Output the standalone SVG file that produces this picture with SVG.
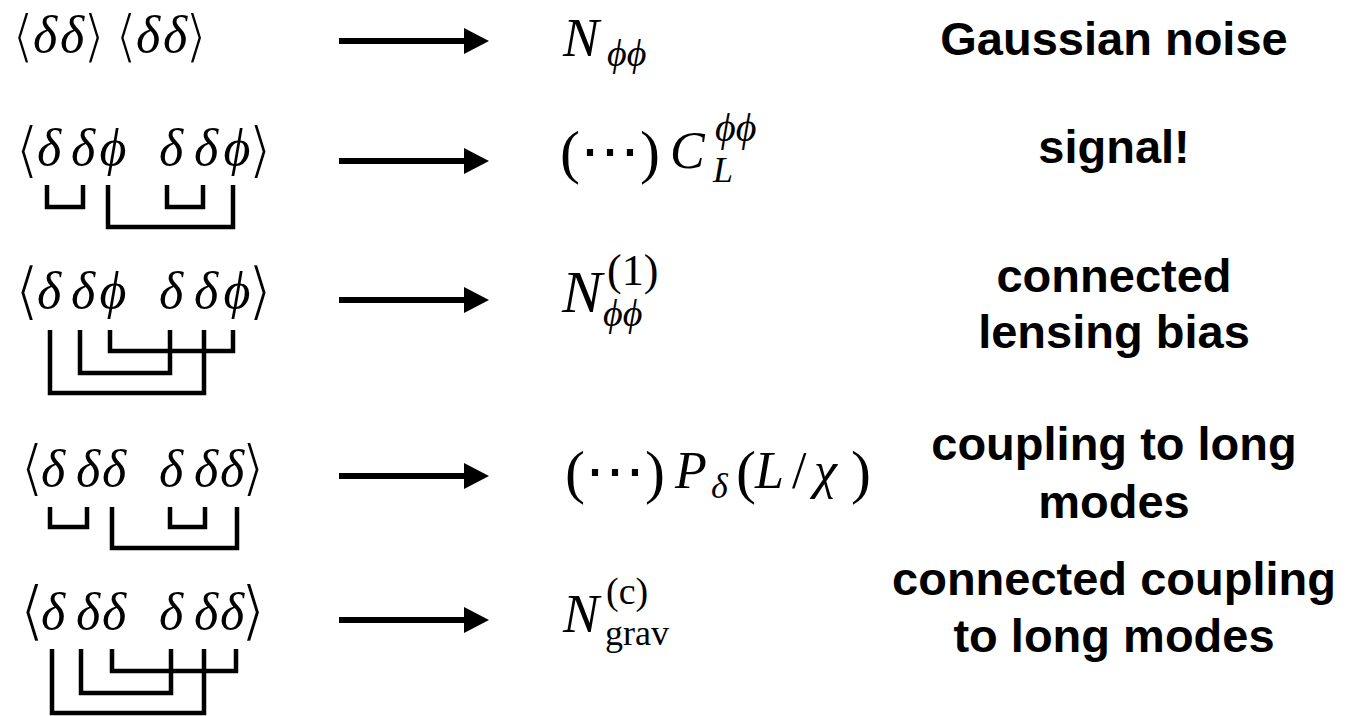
<svg xmlns="http://www.w3.org/2000/svg" width="1346" height="716" viewBox="0 0 1346 716">
<style>
.m{font-family:"Liberation Serif","DejaVu Serif",serif;font-style:italic;fill:#000}
.r{font-family:"Liberation Serif","DejaVu Serif",serif;font-style:normal;fill:#000}
.ab{font-family:"DejaVu Serif",serif;font-style:normal;font-weight:normal;fill:#000;stroke:#fff;stroke-width:2.2px;paint-order:fill;text-anchor:middle}
.lbl{font-family:"Liberation Sans",Arial,sans-serif;font-weight:bold;font-size:47px;fill:#000;text-anchor:middle}
.c{text-anchor:middle}
.br{fill:none;stroke:#000;stroke-width:4.5;stroke-linejoin:miter}
.arr{stroke:#000;stroke-width:6;fill:none}
</style>
<defs>
<marker id="ah" markerUnits="userSpaceOnUse" markerWidth="26" markerHeight="26" refX="0" refY="13" orient="auto">
<path d="M0,0 L25,13 L0,26 Z" fill="#000"/>
</marker>
</defs>
<rect width="1346" height="716" fill="#fff"/>

<g id="row1-corr">
<text class="ab" font-size="58" x="23" y="56">⟨</text>
<text class="ab" font-size="58" x="94" y="56">⟩</text>
<text class="ab" font-size="58" x="126" y="56">⟨</text>
<text class="ab" font-size="58" x="196" y="56">⟩</text>
<text class="m c" font-size="52" x="45" y="52">δ</text>
<text class="m c" font-size="52" x="72" y="52">δ</text>
<text class="m c" font-size="52" x="148" y="52">δ</text>
<text class="m c" font-size="52" x="175" y="52">δ</text>
</g>

<g id="row2-corr">
<text class="ab" font-size="62" x="27" y="171">⟨</text>
<text class="ab" font-size="62" x="260" y="171">⟩</text>
<text class="m c" font-size="52" x="49" y="165">δ</text>
<text class="m c" font-size="52" x="83" y="165">δ</text>
<text class="m c" font-size="52" x="113" y="165">ϕ</text>
<text class="m c" font-size="52" x="171" y="165">δ</text>
<text class="m c" font-size="52" x="206" y="165">δ</text>
<text class="m c" font-size="52" x="237" y="165">ϕ</text>
<polyline class="br" points="47,185 47,207 83,207 83,185"/>
<polyline class="br" points="167,185 167,207 203,207 203,185"/>
<polyline class="br" points="108,185 108,227 233,227 233,185"/>
</g>

<g id="row3-corr">
<text class="ab" font-size="64" x="27" y="313">⟨</text>
<text class="ab" font-size="64" x="260" y="313">⟩</text>
<text class="m c" font-size="52" x="49" y="308">δ</text>
<text class="m c" font-size="52" x="83" y="308">δ</text>
<text class="m c" font-size="52" x="113" y="308">ϕ</text>
<text class="m c" font-size="52" x="171" y="308">δ</text>
<text class="m c" font-size="52" x="206" y="308">δ</text>
<text class="m c" font-size="52" x="237" y="308">ϕ</text>
<polyline class="br" points="110,330 110,351 233,351 233,330"/>
<polyline class="br" points="80,330 80,373 170,373 170,330"/>
<polyline class="br" points="50,330 50,393 204,393 204,330"/>
</g>

<g id="row4-corr">
<text class="ab" font-size="62" x="32" y="489">⟨</text>
<text class="ab" font-size="62" x="253" y="489">⟩</text>
<text class="m c" font-size="52" x="53" y="486">δ</text>
<text class="m c" font-size="52" x="88" y="486">δ</text>
<text class="m c" font-size="52" x="114" y="486">δ</text>
<text class="m c" font-size="52" x="171" y="486">δ</text>
<text class="m c" font-size="52" x="206" y="486">δ</text>
<text class="m c" font-size="52" x="232" y="486">δ</text>
<polyline class="br" points="50,507 50,527 87,527 87,507"/>
<polyline class="br" points="170,507 170,527 205,527 205,507"/>
<polyline class="br" points="112,507 112,548 237,548 237,507"/>
</g>

<g id="row5-corr">
<text class="ab" font-size="66" x="32" y="633">⟨</text>
<text class="ab" font-size="66" x="253" y="633">⟩</text>
<text class="m c" font-size="52" x="53" y="629">δ</text>
<text class="m c" font-size="52" x="88" y="629">δ</text>
<text class="m c" font-size="52" x="114" y="629">δ</text>
<text class="m c" font-size="52" x="171" y="629">δ</text>
<text class="m c" font-size="52" x="206" y="629">δ</text>
<text class="m c" font-size="52" x="232" y="629">δ</text>
<polyline class="br" points="112,649 112,671 236,671 236,649"/>
<polyline class="br" points="81,649 81,693 171,693 171,649"/>
<polyline class="br" points="52,649 52,713 204,713 204,649"/>
</g>

<g id="connectors">
<line class="arr" x1="339" y1="41" x2="464" y2="41" marker-end="url(#ah)"/>
<line class="arr" x1="339" y1="161" x2="464" y2="161" marker-end="url(#ah)"/>
<line class="arr" x1="339" y1="300" x2="464" y2="300" marker-end="url(#ah)"/>
<line class="arr" x1="339" y1="476" x2="464" y2="476" marker-end="url(#ah)"/>
<line class="arr" x1="339" y1="620" x2="464" y2="620" marker-end="url(#ah)"/>
</g>

<g id="row1-result">
<text class="m" font-size="54" x="563" y="56">N</text>
<text class="m" font-size="38" x="607" y="66">ϕϕ</text>
</g>
<g id="row2-result">
<text class="r" font-size="60" x="560" y="172">(⋯)</text>
<text class="m" font-size="52" x="670" y="168">C</text>
<text class="m" font-size="40" x="715" y="141">ϕϕ</text>
<text class="m" font-size="36" x="713" y="182">L</text>
</g>
<g id="row3-result">
<text class="m" font-size="60" x="562" y="312">N</text>
<text class="r" font-size="44" x="607" y="285">(1)</text>
<text class="m" font-size="38" x="603" y="326">ϕϕ</text>
</g>
<g id="row4-result">
<text class="r" font-size="60" x="565" y="492">(⋯)</text>
<text class="m" font-size="52" x="675" y="488">P</text>
<text class="m" font-size="36" x="711" y="498">δ</text>
<text class="r" font-size="60" x="736" y="492">(</text>
<text class="m" font-size="52" x="755" y="488">L</text>
<text class="r" font-size="52" x="792" y="488">/</text>
<text class="m" font-size="52" x="814" y="488">χ</text>
<text class="r" font-size="60" x="851" y="492">)</text>
</g>
<g id="row5-result">
<text class="m" font-size="54" x="563" y="632">N</text>
<text class="r" font-size="38" x="606" y="604">(c)</text>
<text class="r" font-size="36" x="605" y="645">grav</text>
</g>

<g id="row1-label"><text class="lbl" x="1114" y="55">Gaussian noise</text></g>
<g id="row2-label"><text class="lbl" x="1114" y="163">signal!</text></g>
<g id="row3-label"><text class="lbl" x="1114" y="292">connected</text><text class="lbl" x="1114" y="348">lensing bias</text></g>
<g id="row4-label"><text class="lbl" x="1114" y="460">coupling to long</text><text class="lbl" x="1114" y="518">modes</text></g>
<g id="row5-label"><text class="lbl" x="1114" y="595">connected coupling</text><text class="lbl" x="1114" y="652">to long modes</text></g>
</svg>
